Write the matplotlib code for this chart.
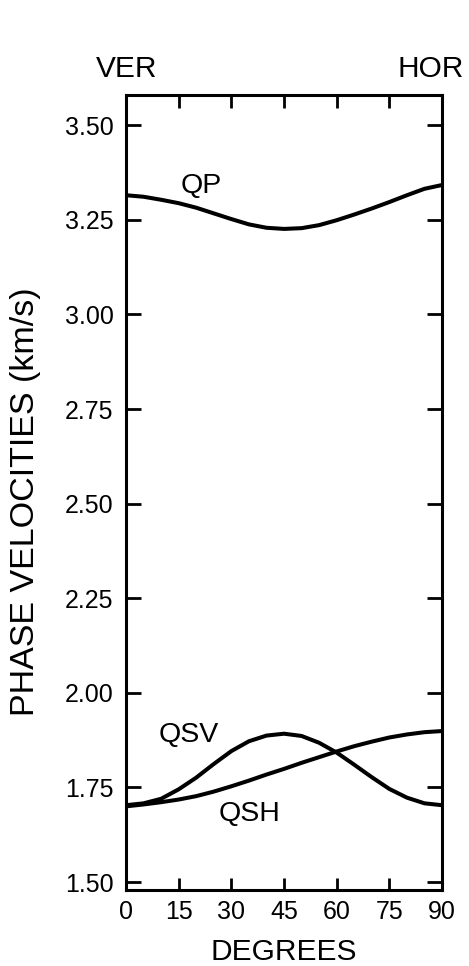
import matplotlib
matplotlib.use("Agg")
import matplotlib.pyplot as plt

plt.rcParams['font.family'] = ['Liberation Sans', 'DejaVu Sans']

# angle from vertical (degrees)
degrees = [0, 5, 10, 15, 20, 25, 30, 35, 40, 45, 50, 55, 60, 65, 70, 75, 80, 85, 90]

qp = [3.315, 3.311, 3.303, 3.294, 3.282, 3.267, 3.252, 3.238, 3.229, 3.226,
      3.228, 3.236, 3.249, 3.264, 3.280, 3.297, 3.315, 3.332, 3.342]
qsv = [1.703, 1.708, 1.720, 1.745, 1.776, 1.812, 1.846, 1.872, 1.887, 1.892,
       1.886, 1.868, 1.842, 1.810, 1.777, 1.746, 1.723, 1.708, 1.703]
qsh = [1.700, 1.705, 1.711, 1.718, 1.727, 1.739, 1.753, 1.768, 1.784, 1.799,
       1.815, 1.830, 1.845, 1.859, 1.871, 1.882, 1.890, 1.896, 1.899]

xticks = [0, 15, 30, 45, 60, 75, 90]
yticks = [1.50, 1.75, 2.00, 2.25, 2.50, 2.75, 3.00, 3.25, 3.50]

fig = plt.figure(figsize=(4.69, 9.66), dpi=100)
ax = fig.add_axes([0.2687, 0.0787, 0.6738, 0.823])

for ys in (qp, qsv, qsh):
    ax.plot(degrees, ys, color='black', lw=2.9, solid_capstyle='butt')

ax.set_xlim(0, 90)
ax.set_ylim(1.479, 3.58)
ax.set_xticks(xticks)
ax.set_yticks(yticks)
ax.set_yticklabels([f"{v:.2f}" for v in yticks])

ax.tick_params(axis='both', direction='in', width=2, labelsize=18,
               top=True, right=True)
ax.tick_params(axis='y', length=11, pad=9)
ax.tick_params(axis='x', length=9, pad=7)
for s in ax.spines.values():
    s.set_linewidth(2.2)

ax.set_xlabel('DEGREES', fontsize=21.5, labelpad=10)
ax.set_ylabel('PHASE VELOCITIES (km/s)', fontsize=24.5)
ax.yaxis.set_label_coords(-0.268, 0.489)

ax.text(21.4, 3.34, 'QP', fontsize=20.5, ha='center', va='center')
ax.text(18.0, 1.888, 'QSV', fontsize=20.5, ha='center', va='center')
ax.text(35.3, 1.679, 'QSH', fontsize=20.5, ha='center', va='center')

fig.text(127 / 469, 1 - 69 / 966, 'VER', fontsize=21.5, ha='center', va='center')
fig.text(431 / 469, 1 - 69 / 966, 'HOR', fontsize=21.5, ha='center', va='center')

fig.savefig('out.png', dpi=100)
